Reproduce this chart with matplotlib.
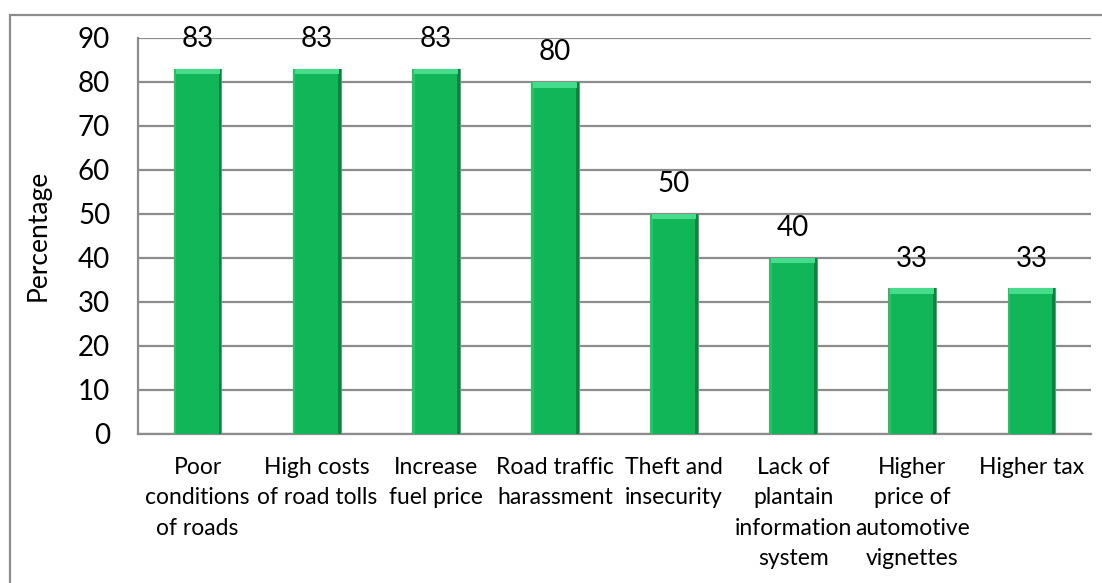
import matplotlib
matplotlib.use("Agg")
import matplotlib.pyplot as plt
from matplotlib.patches import Rectangle
import numpy as np

categories = ["Poor\nconditions\nof roads", "High costs\nof road tolls", "Increase\nfuel price",
              "Road traffic\nharassment", "Theft and\ninsecurity", "Lack of\nplantain\ninformation\nsystem",
              "Higher\nprice of\nautomotive\nvignettes", "Higher tax"]
values = [83, 83, 83, 80, 50, 40, 33, 33]
yticks = [0, 10, 20, 30, 40, 50, 60, 70, 80, 90]

plt.rcParams['font.family'] = ['Lato', 'DejaVu Sans']

W, H = 1102, 583
fig = plt.figure(figsize=(W/100, H/100), dpi=100)
ax = fig.add_axes([138/W, 1 - 433.5/H, (1091-138)/W, (433.5-38)/H])

x = np.arange(len(values))
bw = 0.40
ax.bar(x, values, width=bw, color='#10B657', edgecolor='#5E9E78', linewidth=0.8, zorder=3)
# right dark edge
ax.bar(x + bw/2 - 0.012, values, width=0.024, color='#08843F', zorder=4)
# left light edge
ax.bar(x - bw/2 + 0.012, values, width=0.02, color='#22C466', zorder=4)
# top bevel cap
ax.bar(x, [1.3]*len(values), bottom=np.array(values) - 1.3, width=bw - 0.03, color='#46DC8C', zorder=5)

for xi, v in zip(x, values):
    ax.annotate(str(v), (xi, v), xytext=(0, 12), textcoords='offset points',
                ha='center', va='bottom', fontsize=20, color='#000000')

ax.set_ylim(0, 90)
ax.set_xlim(-0.5, len(values) - 0.5)
ax.set_yticks(yticks)
ax.set_yticklabels([str(t) for t in yticks], fontsize=20)
ax.set_xticks(x)
ax.set_xticklabels(categories, fontsize=16.5, linespacing=1.55, va='top')
ax.tick_params(axis='y', length=0, pad=20)
ax.tick_params(axis='x', length=0, pad=17)
ax.grid(axis='y', color='#8C8C8C', linewidth=1.6, zorder=0)
ax.set_axisbelow(True)
for s in ['top', 'right']:
    ax.spines[s].set_visible(False)
for s in ['left', 'bottom']:
    ax.spines[s].set_color('#8C8C8C')
    ax.spines[s].set_linewidth(1.6)
ax.set_ylabel('Percentage', fontsize=19, labelpad=20)

# outer chart border
fig.patches.append(Rectangle((10/W, -0.1), 1.2, 1 - 15/H + 0.1, transform=fig.transFigure,
                             fill=False, edgecolor='#8C8C8C', linewidth=1.6))

fig.savefig('out.png', dpi=100)
